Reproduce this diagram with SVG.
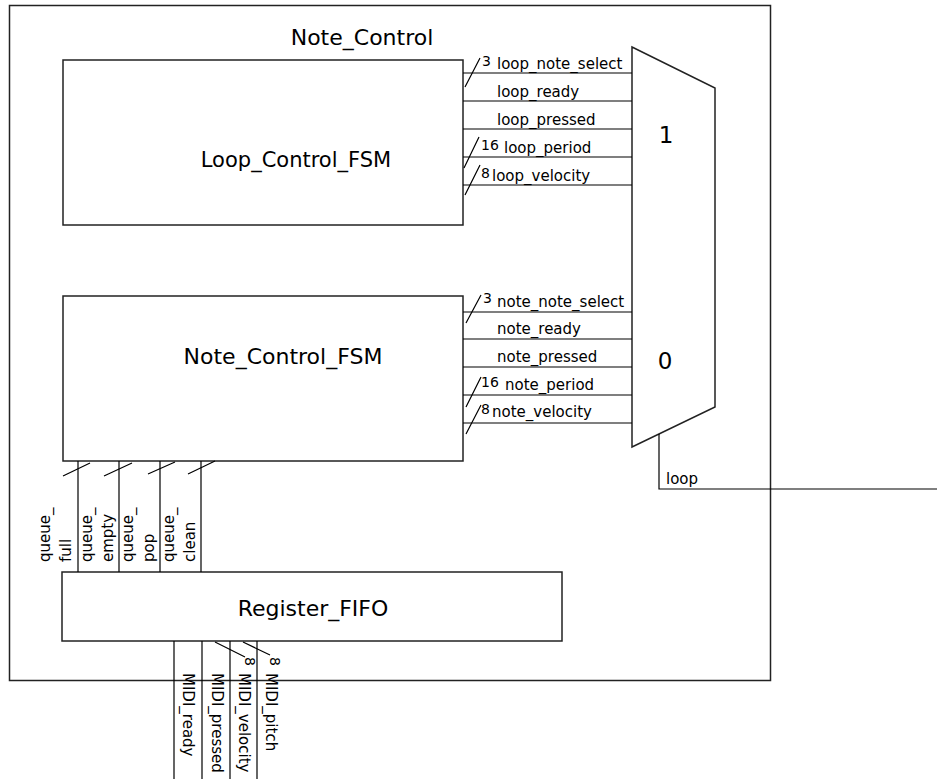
<svg xmlns="http://www.w3.org/2000/svg" width="937" height="779" viewBox="0 0 937 779">
<style>
.box{fill:#fff;stroke:#222;stroke-width:1.5}
.w{fill:none;stroke:#000;stroke-width:1.2}
.t{font-family:"DejaVu Sans",sans-serif;font-size:15px;fill:#000}
.n{font-family:"DejaVu Sans",sans-serif;font-size:14px;fill:#000}
.big{font-family:"DejaVu Sans",sans-serif;font-size:22px;fill:#000;text-anchor:middle}
</style>
<rect width="937" height="779" fill="#fff"/>
<g id="Note_Control">
<rect class="box" x="9.5" y="5.5" width="761" height="675" stroke="#333"/>
<text class="big" x="362" y="45">Note_Control</text>
</g>
<g id="Loop_Control_FSM">
<rect class="box" x="63" y="60" width="400" height="165"/>
<text class="big" x="296" y="167" style="font-size:21px">Loop_Control_FSM</text>
</g>
<g id="Note_Control_FSM">
<rect class="box" x="63" y="296" width="400" height="165"/>
<text class="big" x="283" y="364">Note_Control_FSM</text>
</g>
<g id="Register_FIFO">
<rect class="box" x="62" y="572" width="500" height="69"/>
<text class="big" x="313" y="616">Register_FIFO</text>
</g>
<g id="mux">
<polygon class="box" points="632,47 715,88 715,407 632,447"/>
<text class="big" x="666" y="143" style="font-size:23px">1</text>
<text class="big" x="665" y="369" style="font-size:23px">0</text>
</g>
<g id="connectors">
<path class="w" d="M463 73H632M463 101H632M463 129H632M463 157H632M463 185H632"/>
<path class="w" d="M465 87L480 58M464 168L479 137M465 195L480 165"/>
<path class="w" d="M463 312H632M463 339H632M463 367H632M463 395H632M463 423H632"/>
<path class="w" d="M466 323L481 295M466 407L481 377M466 434L481 405"/>
<path class="w" d="M659 434V489H937"/>
<path class="w" d="M78 461V572M119 461V572M160 461V572M201 461V572"/>
<path class="w" d="M63 476L90 463M104 476L132 463M148 474L175 462M188 474L215 461"/>
<path class="w" d="M174 641V779M202 641V779M230 641V779M257 641V779"/>
<path class="w" d="M215 642L245 657M243 642L270 655"/>
<text class="n" x="482" y="66">3</text>
<text class="t" x="497" y="69">loop_note_select</text>
<text class="t" x="497" y="97">loop_ready</text>
<text class="t" x="497" y="125">loop_pressed</text>
<text class="n" x="481" y="150">16</text>
<text class="t" x="504" y="153">loop_period</text>
<text class="n" x="481" y="178">8</text>
<text class="t" x="492" y="181">loop_velocity</text>
<text class="n" x="483" y="303">3</text>
<text class="t" x="497" y="307">note_note_select</text>
<text class="t" x="497" y="334">note_ready</text>
<text class="t" x="497" y="362">note_pressed</text>
<text class="n" x="481" y="387">16</text>
<text class="t" x="505" y="390">note_period</text>
<text class="n" x="481" y="414">8</text>
<text class="t" x="492" y="417">note_velocity</text>
<text class="t" x="666" y="484">loop</text>
<text class="t" transform="translate(50,562) rotate(-90)">queue_</text>
<text class="t" transform="translate(71,562) rotate(-90)">full</text>
<text class="t" transform="translate(92,562) rotate(-90)">queue_</text>
<text class="t" transform="translate(113,562) rotate(-90)">empty</text>
<text class="t" transform="translate(133,562) rotate(-90)">queue_</text>
<text class="t" transform="translate(154,562) rotate(-90)">pop</text>
<text class="t" transform="translate(174,562) rotate(-90)">queue_</text>
<text class="t" transform="translate(195,562) rotate(-90)">clean</text>
<text class="n" transform="translate(245,657) rotate(90)">8</text>
<text class="n" transform="translate(270,657) rotate(90)">8</text>
<text class="t" transform="translate(183,673) rotate(90)">MIDI_ready</text>
<text class="t" transform="translate(212,673) rotate(90)">MIDI_pressed</text>
<text class="t" transform="translate(239,673) rotate(90)">MIDI_velocity</text>
<text class="t" transform="translate(266,673) rotate(90)">MIDI_pitch</text>
</g>
</svg>
